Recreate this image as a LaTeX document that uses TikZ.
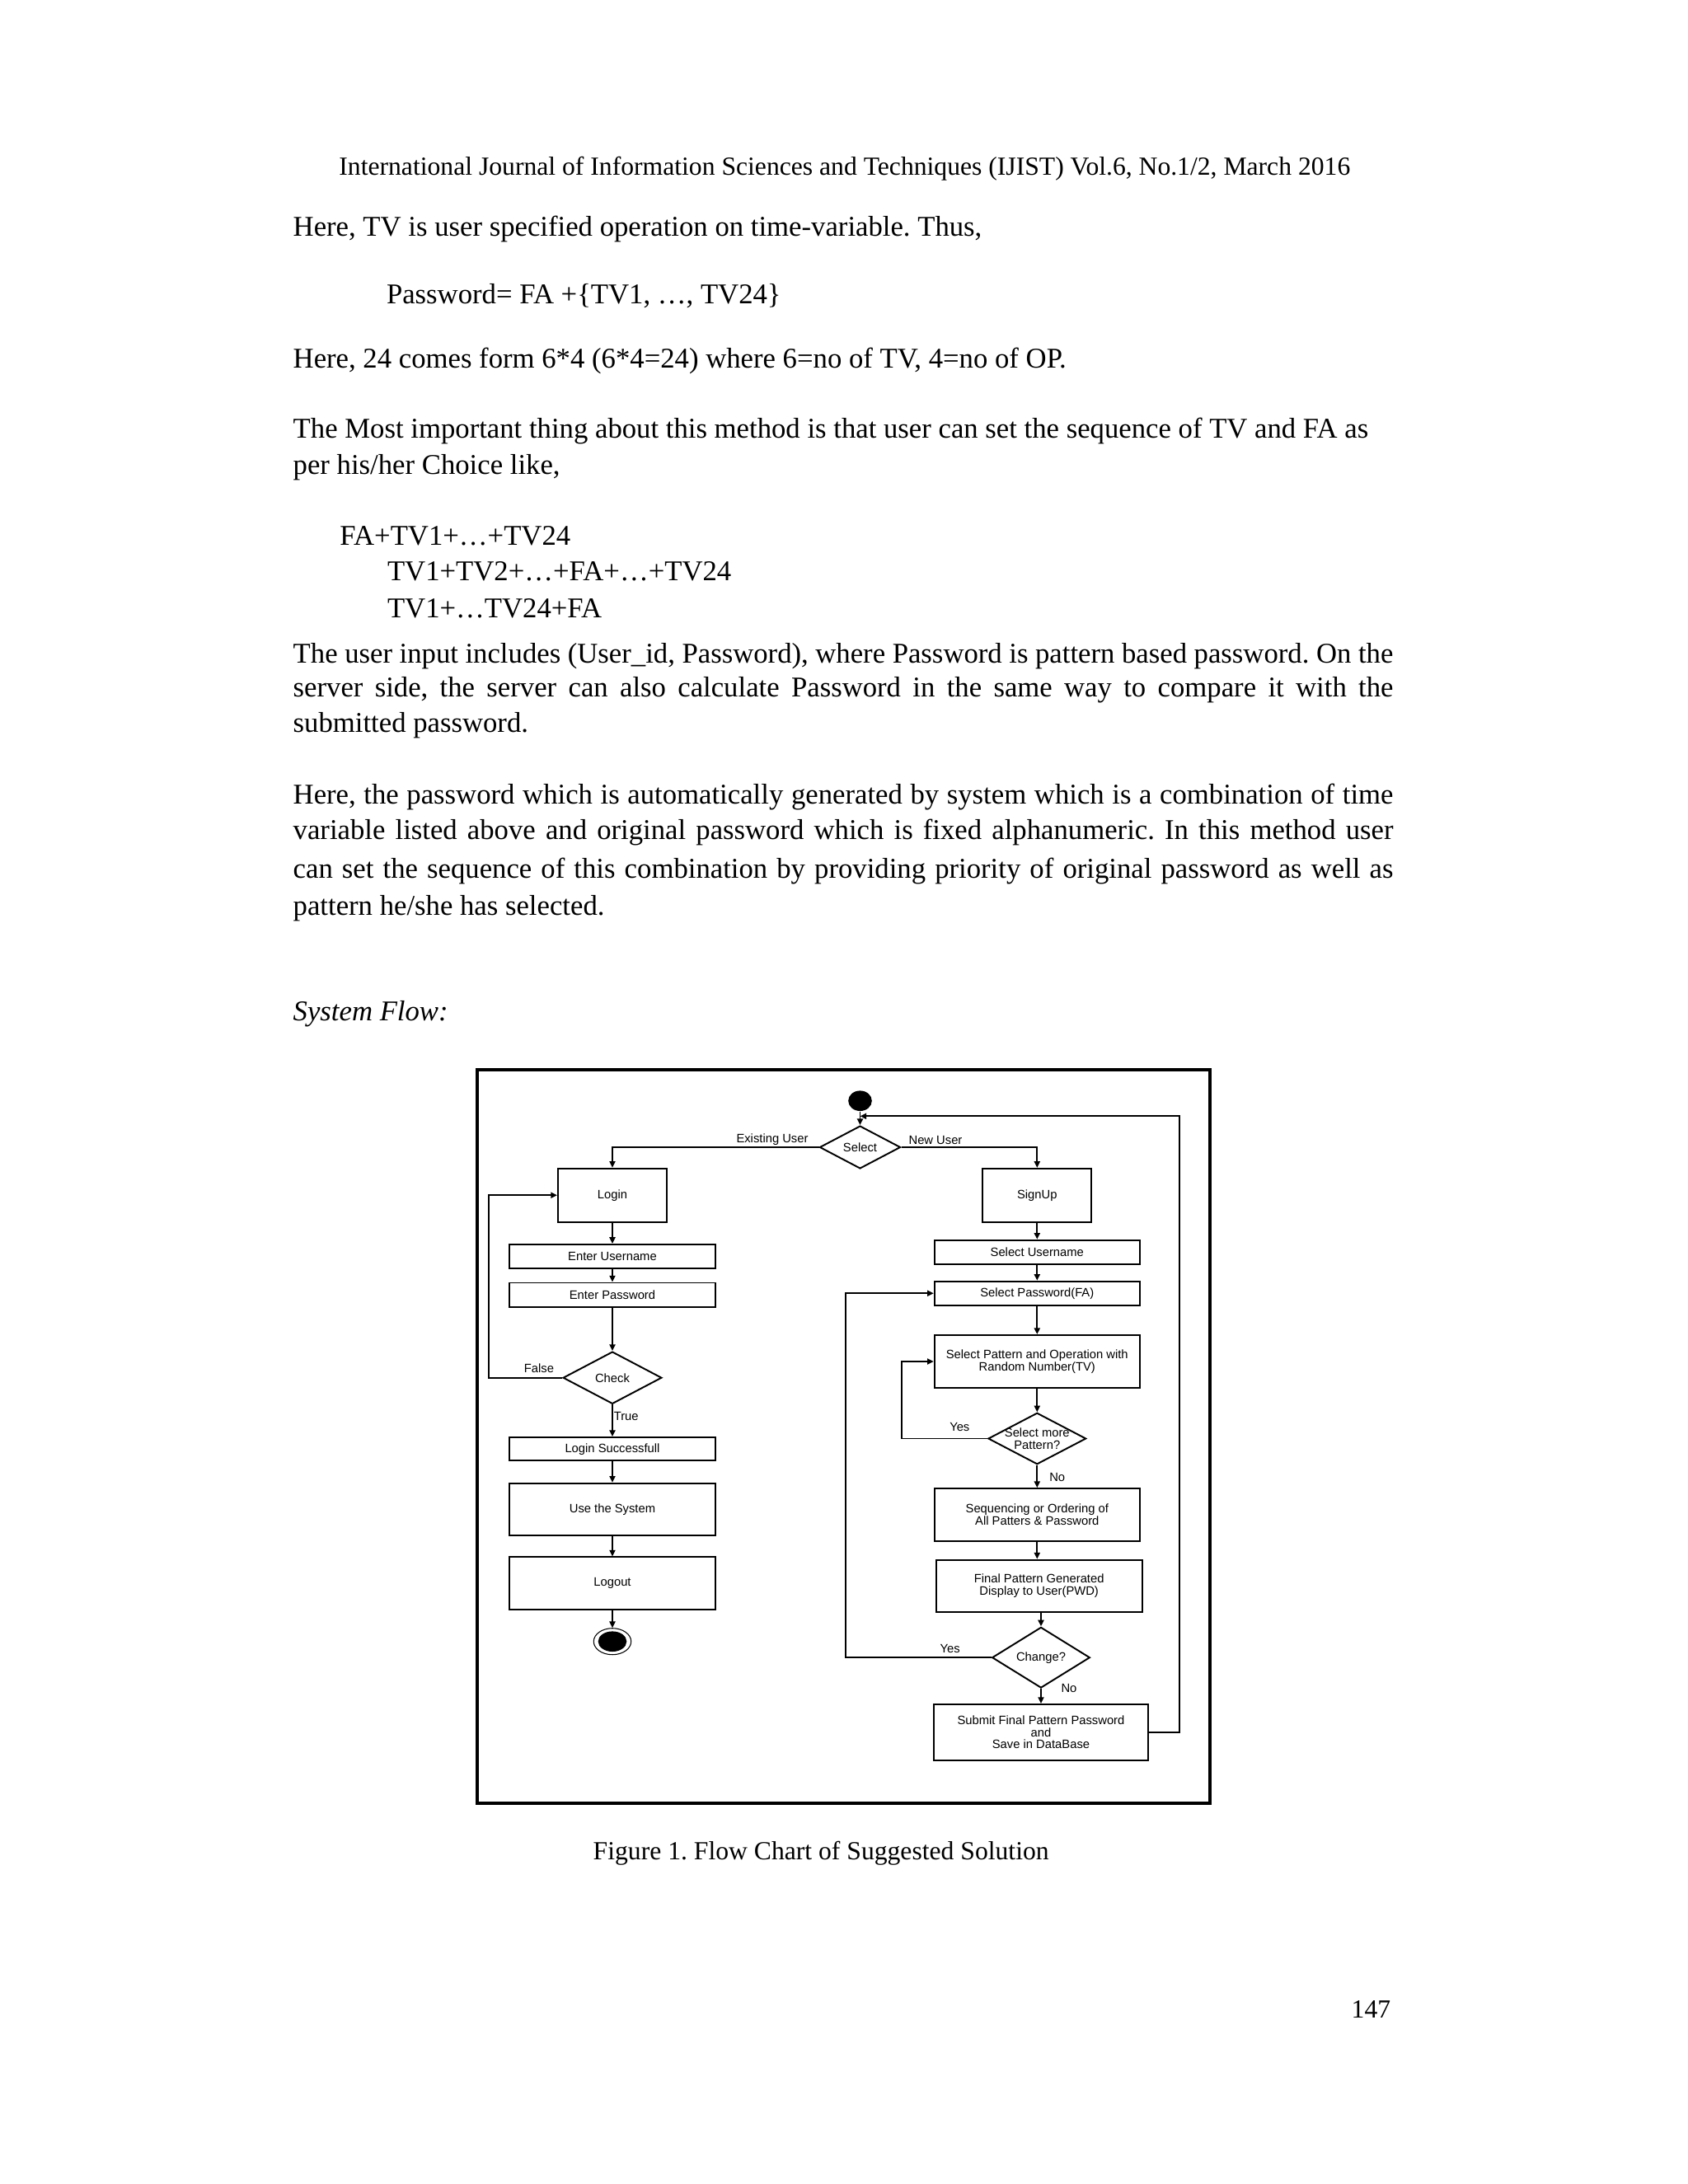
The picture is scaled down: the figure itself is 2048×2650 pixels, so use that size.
\documentclass[tikz,border=0pt]{standalone}
\usepackage{fontspec}
\setmainfont{Liberation Serif}
\setsansfont{Liberation Sans}
\usetikzlibrary{arrows.meta,positioning,shapes.geometric}
\newcommand{\flowfont}{\sffamily\fontsize{4.2}{4.1}\selectfont}
\newcommand{\justline}[1]{\makebox[13.34cm][s]{#1}}
\tikzset{
  bodytxt/.style={anchor=base west,inner sep=0pt,font=\fontsize{9.87}{12.5}\selectfont},
  headtxt/.style={anchor=base west,inner sep=0pt,font=\fontsize{9.0}{11}\selectfont},
  stepbox/.style={draw,line width=0.55pt,inner sep=0pt,align=center,font=\flowfont},
  smallbox/.style={stepbox,minimum width=1.32cm,minimum height=0.65cm},
  thinbox/.style={stepbox,minimum width=2.49cm,minimum height=0.29cm},
  bigbox/.style={stepbox,minimum width=2.49cm,minimum height=0.635cm},
  decision/.style={diamond,draw,line width=0.55pt,inner sep=0pt,align=center,font=\flowfont},
  lbl/.style={inner sep=0pt,font=\flowfont},
  arrow/.style={-{Triangle[length=2.2pt,width=2pt]},line width=0.55pt}
}
\begin{document}
\frenchspacing
\begin{tikzpicture}[x=0.01cm,y=-0.01cm]
  \useasboundingbox (0,0) rectangle (2048,2650);
  \fill[white] (0,0) rectangle (2048,2650);
  % page text
  \node[headtxt] (hdr) at (410.7,212) {International Journal of Information Sciences and Techniques (IJIST) Vol.6, No.1/2, March 2016};
  \node[bodytxt] (p1) at (355,286.7) {Here, TV is user specified operation on time-variable. Thus,};
  \node[bodytxt] (p2) at (468.3,368) {Password= FA +\{TV1, …, TV24\}};
  \node[bodytxt] (p3) at (355,446.3) {Here, 24 comes form 6*4 (6*4=24) where 6=no of TV, 4=no of OP.};
  \node[bodytxt] (p4) at (355,531) {The Most important thing about this method is that user can set the sequence of TV and FA as};
  \node[bodytxt] (p5) at (355,575) {per his/her Choice like,};
  \node[bodytxt] (p6) at (411.7,661) {FA+TV1+…+TV24};
  \node[bodytxt] (p7) at (469.3,704) {TV1+TV2+…+FA+…+TV24};
  \node[bodytxt] (p8) at (469.3,749) {TV1+…TV24+FA};
  \node[bodytxt] (p9) at (355,804.3) {\justline{The user input includes (User\_id, Password), where Password is pattern based password. On the}};
  \node[bodytxt] (p10) at (355,845) {\justline{server side, the server can also calculate Password in the same way to compare it with the}};
  \node[bodytxt] (p11) at (355,888.3) {submitted password.};
  \node[bodytxt] (p12) at (355,975) {\justline{Here, the password which is automatically generated by system which is a combination of time}};
  \node[bodytxt] (p13) at (355,1018.3) {\justline{variable listed above and original password which is fixed alphanumeric. In this method user}};
  \node[bodytxt] (p14) at (355,1065) {\justline{can set the sequence of this combination by providing priority of original password as well as}};
  \node[bodytxt] (p15) at (355,1110) {pattern he/she has selected.};
  \node[bodytxt,font=\fontsize{9.87}{12.5}\selectfont\itshape] (p16) at (355,1238.3) {System Flow:};
  \node[headtxt] (cap) at (719,2256) {Figure 1. Flow Chart of Suggested Solution};
  \node[headtxt] (pgno) at (1639,2448) {147};
  % figure frame
  \draw[line width=1.1pt] (579,1298) rectangle (1468,2188);
  % start and choice
  \node[ellipse,fill=black,inner sep=0pt,minimum width=0.286cm,minimum height=0.246cm] (start) at (1043.5,1335.7) {};
  \node[decision,minimum width=0.98cm,minimum height=0.516cm] (select) at (1043.5,1392) {Select};
  \coordinate (merge) at (1043.5,1354.3);
  % existing user
  \node[smallbox] (login) at (743,1450.2) {Login};
  \node[thinbox] (uname) at (743,1524.4) {Enter Username};
  \node[thinbox] (upwd) at (743,1571) {Enter Password};
  \node[decision,minimum width=1.197cm,minimum height=0.633cm] (check) at (743,1671.7) {Check};
  \node[thinbox,minimum height=0.283cm] (lsucc) at (743,1758.2) {Login Successfull};
  \node[bigbox] (usesys) at (743,1831.5) {Use the System};
  \node[bigbox] (logout) at (743,1921.2) {Logout};
  \node[ellipse,draw,line width=0.3pt,inner sep=0pt,minimum width=0.454cm,minimum height=0.32cm,
    path picture={\fill (path picture bounding box.center) ellipse (0.173cm and 0.123cm);}] (stop) at (743,1991.7) {};
  % new user
  \node[smallbox] (signup) at (1258.3,1450.3) {SignUp};
  \node[thinbox] (sname) at (1258.3,1519.2) {Select Username};
  \node[thinbox] (spwd) at (1258.3,1569.2) {Select Password(FA)};
  \node[bigbox,minimum height=0.64cm] (spat) at (1258.3,1652) {Select Pattern and Operation with\\Random Number(TV)};
  \node[decision,minimum width=1.187cm,minimum height=0.624cm] (more) at (1258.3,1745.5) {};
  \node[lbl,align=center] (moretxt) at (more) {Select more\\Pattern?};
  \node[bigbox] (seq) at (1258.3,1837.8) {Sequencing or Ordering of\\All Patters \& Password};
  \node[bigbox,minimum width=2.5cm] (final) at (1260.7,1924.3) {Final Pattern Generated\\Display to User(PWD)};
  \node[decision,minimum width=1.186cm,minimum height=0.623cm] (change) at (1263,2011.2) {Change?};
  \node[stepbox,minimum width=2.59cm,minimum height=0.677cm] (submit) at (1263,2101.8) {Submit Final Pattern Password\\and\\Save in DataBase};
  % labels
  \node[lbl] (lexist) at (937,1383) {Existing User};
  \node[lbl] (lnew) at (1135,1383) {New User};
  \node[lbl] (lfalse) at (654,1660) {False};
  \node[lbl] (ltrue) at (759.7,1718.3) {True};
  \node[lbl] (lyes1) at (1164.3,1731.7) {Yes};
  \node[lbl] (lno1) at (1282.7,1792.3) {No};
  \node[lbl] (lyes2) at (1152.7,2000) {Yes};
  \node[lbl] (lno2) at (1297,2048) {No};
  % connectors
  \draw[arrow] (start) -- (select);
  \draw[arrow] (select.west) -| (login.north);
  \draw[arrow] (select.east) -| (signup.north);
  \draw[arrow] (login) -- (uname);
  \draw[arrow] (uname) -- (upwd);
  \draw[arrow] (upwd) -- (check);
  \draw[arrow] (check.west) -- ++(-89.3,0) |- (login.west);
  \draw[arrow] (check) -- (lsucc);
  \draw[arrow] (lsucc) -- (usesys);
  \draw[arrow] (usesys) -- (logout);
  \draw[arrow] (logout) -- (stop);
  \draw[arrow] (signup) -- (sname);
  \draw[arrow] (sname) -- (spwd);
  \draw[arrow] (spwd) -- (spat);
  \draw[arrow] (spat) -- (more);
  \draw[arrow] (more.west) -- ++(-103.6,0) |- (spat.west);
  \draw[arrow] (more) -- (seq);
  \draw[arrow] (seq.south) -- (seq.south |- final.north);
  \draw[arrow] (change.north |- final.south) -- (change.north);
  \draw[arrow] (change.west) -- ++(-177,0) |- (spwd.west);
  \draw[arrow] (change) -- (submit);
  \draw[arrow] (submit.east) -- ++(37,0) |- (merge);
\end{tikzpicture}
\end{document}
